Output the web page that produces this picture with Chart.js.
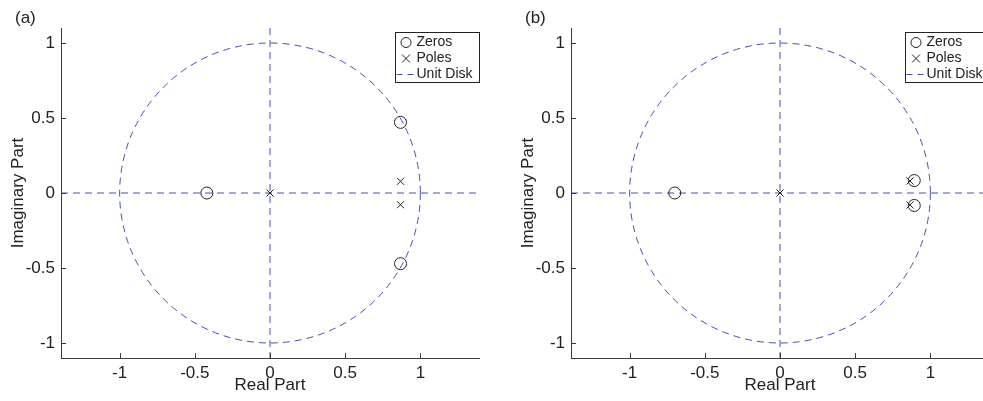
<!DOCTYPE html>
<html>
<head>
<meta charset="utf-8">
<script src="https://cdn.jsdelivr.net/npm/chart.js@4/dist/chart.umd.min.js"></script>
<style>
  html, body { margin: 0; padding: 0; background: #fff; }
  body { width: 983px; height: 401px; overflow: hidden; position: relative; }
  .panel { position: absolute; top: 0; width: 490px; height: 401px; }
  #panelA { left: 0; }
  #panelB { left: 510px; }
</style>
</head>
<body>
<div class="panel" id="panelA"><canvas id="chartA" width="490" height="401"></canvas></div>
<div class="panel" id="panelB"><canvas id="chartB" width="490" height="401"></canvas></div>
<script>
// Pole-zero locations for the two filters (real and imaginary parts)
const zerosRealA = [-0.42, 0.868, 0.868];
const zerosImagA = [0, 0.471, -0.471];
const polesRealA = [0, 0.868, 0.868];
const polesImagA = [0, 0.078, -0.078];

const zerosRealB = [-0.70, 0.893, 0.893];
const zerosImagB = [0, 0.083, -0.083];
const polesRealB = [0, 0.865, 0.865];
const polesImagB = [0, 0.08, -0.08];

// Axis ticks, limits and labels
const xTicks = [-1, -0.5, 0, 0.5, 1];
const yTicks = [-1, -0.5, 0, 0.5, 1];
const xLimits = [-1.39, 1.39];
const yLimits = [-1.1, 1.1];
const unitRadius = 1;
const legendLabels = ['Zeros', 'Poles', 'Unit Disk'];
const panelLabels = ['(a)', '(b)'];
const xTitle = 'Real Part';
const yTitle = 'Imaginary Part';

const FONT = "'Liberation Sans', Arial, Helvetica, sans-serif";
const INK = '#222222';
const AXIS = '#3a3a3a';
const BLUE = '#4450b0';

function toPoints(re, im) {
  return re.map((r, i) => ({ x: r, y: im[i] }));
}

// Unit circle, dashed zero lines, inward ticks, legend and panel tag
const pzPlugin = {
  id: 'pz',
  beforeDatasetsDraw(chart) {
    const { ctx, chartArea: a, scales: { x, y } } = chart;
    const cx = x.getPixelForValue(0), cy = y.getPixelForValue(0);
    const rx = x.getPixelForValue(unitRadius) - cx;
    const ry = cy - y.getPixelForValue(unitRadius);
    ctx.save();
    ctx.strokeStyle = BLUE;
    ctx.lineWidth = 1;
    ctx.setLineDash([7, 5]);
    ctx.beginPath();
    ctx.moveTo(a.left, cy); ctx.lineTo(a.right, cy);
    ctx.stroke();
    ctx.beginPath();
    ctx.moveTo(cx, a.top); ctx.lineTo(cx, a.bottom);
    ctx.stroke();
    ctx.beginPath();
    ctx.ellipse(cx, cy, rx, ry, 0, 0, Math.PI * 2);
    ctx.stroke();
    ctx.restore();
  },
  afterDraw(chart, args, opts) {
    const { ctx, chartArea: a, scales: { x, y } } = chart;
    ctx.save();
    // inward tick marks
    ctx.strokeStyle = AXIS;
    ctx.lineWidth = 1;
    ctx.beginPath();
    x.ticks.forEach(t => {
      const px = Math.round(x.getPixelForValue(t.value)) + 0.5;
      ctx.moveTo(px, a.bottom); ctx.lineTo(px, a.bottom - 5);
    });
    y.ticks.forEach(t => {
      const py = Math.round(y.getPixelForValue(t.value)) + 0.5;
      ctx.moveTo(a.left, py); ctx.lineTo(a.left + 5, py);
    });
    ctx.stroke();

    // panel tag
    ctx.fillStyle = INK;
    ctx.font = '17px ' + FONT;
    ctx.textBaseline = 'middle';
    ctx.textAlign = 'left';
    ctx.fillText(opts.tag, 15, 18);

    // legend box
    const bw = 84, bh = 50;
    const bx = Math.round(a.right - bw) + 0.5, by = 32.5;
    ctx.fillStyle = '#ffffff';
    ctx.fillRect(bx, by, bw, bh);
    ctx.strokeStyle = INK;
    ctx.setLineDash([]);
    ctx.strokeRect(bx, by, bw, bh);
    const rows = [by + 10, by + 26, by + 42];
    const sx = bx + 10.5;
    // zero symbol
    ctx.beginPath();
    ctx.arc(sx, rows[0], 5, 0, Math.PI * 2);
    ctx.stroke();
    // pole symbol
    ctx.beginPath();
    ctx.moveTo(sx - 4, rows[1] - 4); ctx.lineTo(sx + 4, rows[1] + 4);
    ctx.moveTo(sx - 4, rows[1] + 4); ctx.lineTo(sx + 4, rows[1] - 4);
    ctx.stroke();
    // unit disk line sample
    ctx.strokeStyle = BLUE;
    ctx.setLineDash([6, 5]);
    ctx.beginPath();
    ctx.moveTo(bx + 1, rows[2]); ctx.lineTo(bx + 20, rows[2]);
    ctx.stroke();
    ctx.setLineDash([]);
    ctx.fillStyle = INK;
    ctx.font = '14px ' + FONT;
    ctx.fillText(legendLabels[0], bx + 21, rows[0]);
    ctx.fillText(legendLabels[1], bx + 21, rows[1]);
    ctx.fillText(legendLabels[2], bx + 21, rows[2]);
    ctx.restore();
  }
};

function makeChart(id, tag, zRe, zIm, pRe, pIm) {
  return new Chart(document.getElementById(id), {
    type: 'scatter',
    data: {
      datasets: [
        {
          label: legendLabels[0],
          data: toPoints(zRe, zIm),
          pointStyle: 'circle',
          pointRadius: 6,
          pointHoverRadius: 6,
          borderColor: INK,
          backgroundColor: 'rgba(0,0,0,0)',
          borderWidth: 1
        },
        {
          label: legendLabels[1],
          data: toPoints(pRe, pIm),
          pointStyle: 'crossRot',
          pointRadius: 5,
          pointHoverRadius: 5,
          borderColor: INK,
          backgroundColor: INK,
          borderWidth: 1
        }
      ]
    },
    options: {
      responsive: false,
      animation: false,
      devicePixelRatio: 1,
      layout: { padding: { top: 28, right: 11, left: 0, bottom: 0 } },
      plugins: {
        legend: { display: false },
        tooltip: { enabled: false },
        pz: { tag: tag }
      },
      scales: {
        x: {
          type: 'linear',
          min: xLimits[0],
          max: xLimits[1],
          afterBuildTicks: s => { s.ticks = xTicks.map(v => ({ value: v })); },
          afterFit: s => { s.height = 43; },
          grid: { display: true, drawOnChartArea: false, drawTicks: false },
          border: { display: true, color: AXIS, width: 1 },
          ticks: {
            color: INK,
            padding: 5,
            maxRotation: 0,
            autoSkip: false,
            font: { family: FONT, size: 17 },
            callback: v => String(v)
          },
          title: {
            display: true,
            text: xTitle,
            color: INK,
            font: { family: FONT, size: 17 },
            padding: { top: 0, bottom: 5 }
          }
        },
        y: {
          type: 'linear',
          min: yLimits[0],
          max: yLimits[1],
          afterBuildTicks: s => { s.ticks = yTicks.map(v => ({ value: v })); },
          afterFit: s => { s.width = 61; },
          grid: { display: true, drawOnChartArea: false, drawTicks: false },
          border: { display: true, color: AXIS, width: 1 },
          ticks: {
            color: INK,
            padding: 6,
            autoSkip: false,
            font: { family: FONT, size: 17 },
            callback: v => String(v)
          },
          title: {
            display: true,
            text: yTitle,
            color: INK,
            font: { family: FONT, size: 17 },
            padding: { top: 8, bottom: 0 }
          }
        }
      }
    },
    plugins: [pzPlugin]
  });
}

makeChart('chartA', panelLabels[0], zerosRealA, zerosImagA, polesRealA, polesImagA);
makeChart('chartB', panelLabels[1], zerosRealB, zerosImagB, polesRealB, polesImagB);
</script>
</body>
</html>
